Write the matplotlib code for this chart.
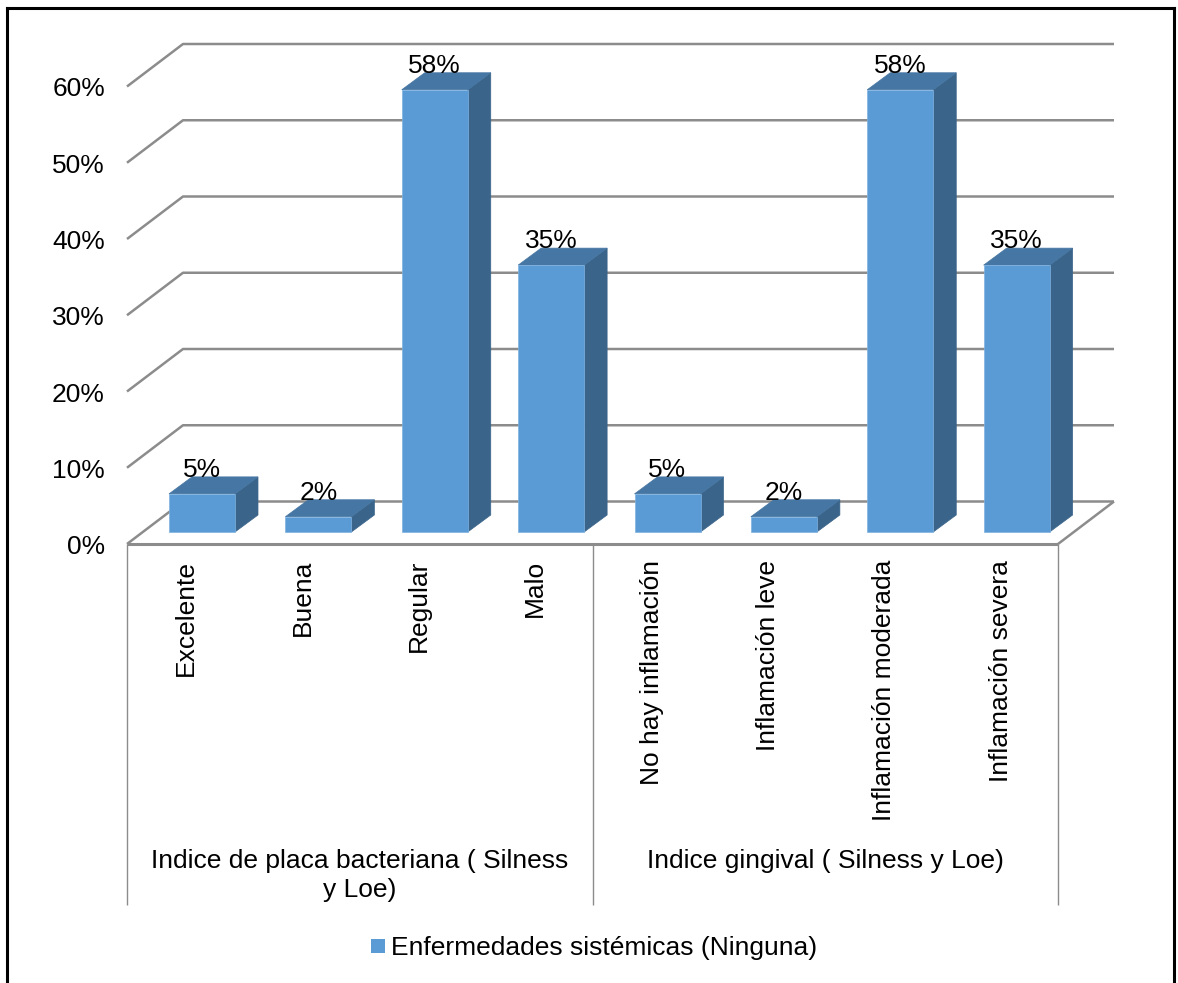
import matplotlib
matplotlib.use('Agg')
import matplotlib.pyplot as plt
from matplotlib.patches import Polygon, Rectangle
from matplotlib.lines import Line2D

categories = ['Excelente', 'Buena', 'Regular', 'Malo',
              'No hay inflamación', 'Inflamación leve',
              'Inflamación moderada', 'Inflamación severa']
values = [5, 2, 58, 35, 5, 2, 58, 35]
groups = ['Indice de placa bacteriana ( Silness\ny Loe)',
          'Indice gingival ( Silness y Loe)']
group_sizes = [4, 4]
y_ticks = [0, 10, 20, 30, 40, 50, 60]
legend_label = 'Enfermedades sistémicas (Ninguna)'

W, H = 1178, 983
GRID = '#8c8c8c'
FRONT = '#5b9bd5'
TOP = '#4676a3'
SIDE = '#3a648a'
FONT = 'Liberation Sans'
FS = 19

# plot area of the front plane, in pixels
left, right, base, top = 127, 1058, 544, 86.5
px_x = (right - left) / len(categories)
px_y = (base - top) / 60

fig = plt.figure(figsize=(W / 100, H / 100), dpi=100)
ax = fig.add_axes([left / W, 1 - base / H, (right - left) / W, (base - top) / H])
ax.set_xlim(0, len(categories))
ax.set_ylim(0, 60)
ax.axis('off')

# oblique depth of the box and of the bars, in data units
depth_x, depth_y = 56 / px_x, 42.5 / px_y
bar_dx, bar_dy = 23 / px_x, 17 / px_y
bar_w = 66 / px_x
bar_shift = 42 / px_x
floor = 12 / px_y


def line(xs, ys, lw=1.8, z=1):
    ax.add_line(Line2D(xs, ys, color=GRID, lw=lw, clip_on=False, zorder=z,
                       solid_capstyle='butt'))


# back wall gridlines with their side wall diagonals
for t in y_ticks:
    line([0, depth_x, len(categories) + depth_x], [t, t + depth_y, t + depth_y])
    ax.text(-0.19, t - 3 / px_y, f'{t}%', ha='right', va='center', fontsize=FS, family=FONT,
            color='black', clip_on=False)
line([len(categories), len(categories) + depth_x], [0, depth_y])
line([0, len(categories)], [0, 0], lw=2.2, z=2)

# bars
for i, v in enumerate(values):
    x0 = i + bar_shift
    x1 = x0 + bar_w
    y0 = floor
    y1 = floor + v
    ax.add_patch(Polygon([(x1, y0), (x1 + bar_dx, y0 + bar_dy), (x1 + bar_dx, y1 + bar_dy), (x1, y1)],
                         fc=SIDE, ec=SIDE, lw=0.5, clip_on=False, zorder=3))
    ax.add_patch(Polygon([(x0, y1), (x1, y1), (x1 + bar_dx, y1 + bar_dy), (x0 + bar_dx, y1 + bar_dy)],
                         fc=TOP, ec=TOP, lw=0.5, clip_on=False, zorder=3))
    ax.add_patch(Rectangle((x0, y0), bar_w, y1 - y0, fc=FRONT, ec='#7fb2e0', lw=0.5,
                           clip_on=False, zorder=4))
    ax.text(x0 + bar_w / 2, y1 + bar_dy, f'{v}%', ha='center', va='baseline',
            fontsize=FS, family=FONT, color='black', clip_on=False, zorder=5)
    ax.text(i + 0.5 + 1 / px_x, -16 / px_y, categories[i], rotation=90, ha='center', va='top',
            fontsize=FS, family=FONT, color='black', clip_on=False)

# multi-level category axis
axis_bottom = -(905 - base) / px_y
edges = [0]
for n in group_sizes:
    edges.append(edges[-1] + n)
for e in edges:
    line([e, e], [0, axis_bottom], lw=1.0)
for g, a, b in zip(groups, edges[:-1], edges[1:]):
    ax.text((a + b) / 2, -(849 - base) / px_y, g, ha='center', va='top', fontsize=FS,
            family=FONT, color='black', linespacing=1.25, clip_on=False)

# legend
fig.add_artist(Rectangle((371 / W, 1 - 953 / H), 14 / W, 14 / H, fc=FRONT, ec='none',
                         transform=fig.transFigure))
fig.text(391 / W, 1 - 948 / H, legend_label, ha='left', va='center', fontsize=FS,
         family=FONT, color='black')

# outer frame, open at the bottom
for xs, ys in [([7, 7], [8, H]), ([7, 1174], [8, 8]), ([1174, 1174], [8, H])]:
    fig.add_artist(Line2D([x / W for x in xs], [1 - y / H for y in ys], color='black',
                          lw=2.2, transform=fig.transFigure))

fig.savefig('out.png', dpi=100, facecolor='white')
